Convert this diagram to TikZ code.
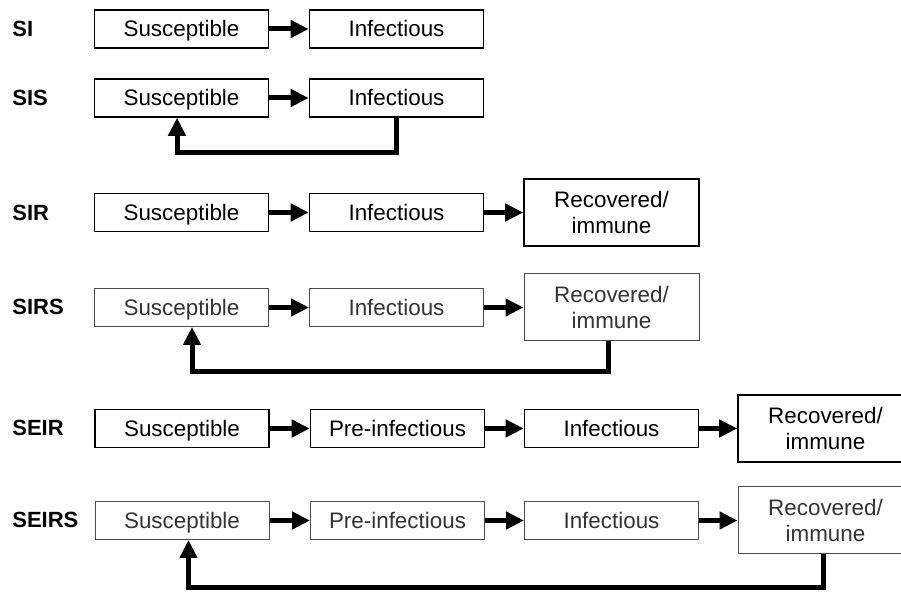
\documentclass[tikz,border=0pt]{standalone}
\usepackage{fontspec}
\setmainfont{Liberation Sans}
\usetikzlibrary{arrows.meta}
\tikzset{
  cell/.style={draw, line width=0.8pt, inner sep=0pt, align=center,
    font=\fontsize{11.2}{12.8}\selectfont},
  box/.style={cell, minimum width=87pt, minimum height=19pt, text height=8pt, text depth=0pt},
  tallbox/.style={cell, minimum width=87.5pt, minimum height=33.5pt},
  faint/.style={draw=black!70, text=black!80, line width=0.5pt},
  model/.style={anchor=west, inner sep=0pt, font=\fontsize{11}{12}\selectfont\bfseries},
  flow/.style={line width=2.5pt, -{Triangle[length=9pt,width=8.5pt]}},
}
\begin{document}
\begin{tikzpicture}[x=0.5pt,y=-0.5pt]
\useasboundingbox (0,0) rectangle (901,592);
\node[model] (si) at (12,29) {SI};
\node[box] (siS) at (181.5,29) {Susceptible};
\node[box] (siI) at (396.5,29) {Infectious};
\draw[flow] (siS) -- (siI);
\node[model] (sis) at (12,98) {SIS};
\node[box] (sisS) at (181.5,98) {Susceptible};
\node[box] (sisI) at (396.5,98) {Infectious};
\draw[flow] (sisS) -- (sisI);
\draw[flow] (sisI.south) -- ++(0,35) -| ([xshift=-2.25pt]sisS.south);
\node[model] (sir) at (12,213) {SIR};
\node[box] (sirS) at (181.5,212.5) {Susceptible};
\node[box] (sirI) at (396.5,212.5) {Infectious};
\node[tallbox] (sirR) at (611.5,212.5) {Recovered/\\immune};
\draw[flow] (sirS) -- (sirI);
\draw[flow] (sirI) -- (sirR);
\node[model] (sirs) at (12,307) {SIRS};
\node[box, faint] (sirsS) at (181.5,307.5) {Susceptible};
\node[box, faint] (sirsI) at (396.5,307.5) {Infectious};
\node[tallbox, faint] (sirsR) at (611.5,307.5) {Recovered/\\immune};
\draw[flow] (sirsS) -- (sirsI);
\draw[flow] (sirsI) -- (sirsR);
\draw[flow] ([xshift=-1.75pt]sirsR.south) -- ++(0,30) -| ([xshift=5.25pt]sirsS.south);
\node[model] (seir) at (12,428) {SEIR};
\node[box] (seirS) at (182,428.5) {Susceptible};
\node[box] (seirE) at (397.5,428.5) {Pre-infectious};
\node[box] (seirI) at (611.5,428.5) {Infectious};
\node[tallbox] (seirR) at (825.5,428.5) {Recovered/\\immune};
\draw[flow] (seirS) -- (seirE);
\draw[flow] (seirE) -- (seirI);
\draw[flow] (seirI) -- (seirR);
\node[model] (seirs) at (12,520) {SEIRS};
\node[box, faint] (seirsS) at (182,520.5) {Susceptible};
\node[box, faint] (seirsE) at (397.5,520.5) {Pre-infectious};
\node[box, faint] (seirsI) at (611.5,520.5) {Infectious};
\node[tallbox, faint] (seirsR) at (825.5,520.5) {Recovered/\\immune};
\draw[flow] (seirsS) -- (seirsE);
\draw[flow] (seirsE) -- (seirsI);
\draw[flow] (seirsI) -- (seirsR);
\draw[flow] ([xshift=-1.25pt]seirsR.south) -- ++(0,33) -| ([xshift=3.25pt]seirsS.south);
\end{tikzpicture}
\end{document}
